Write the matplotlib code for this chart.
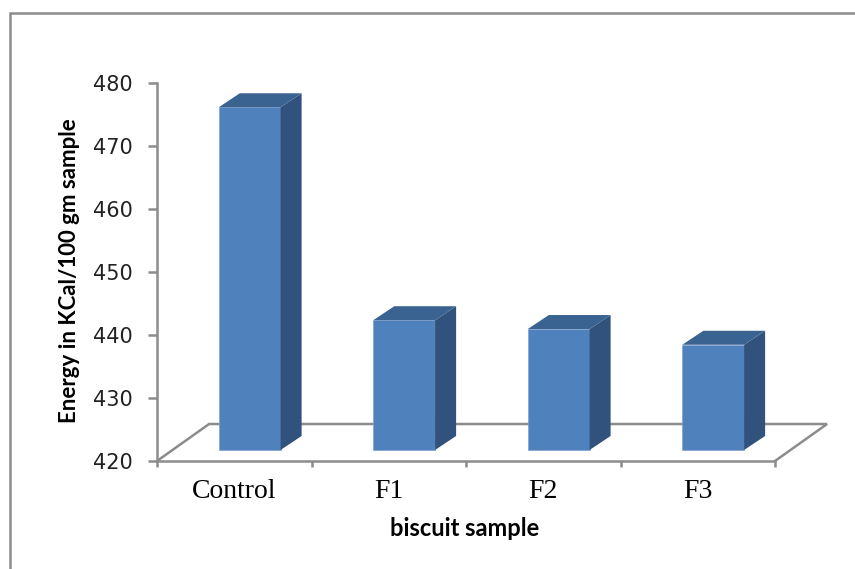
import matplotlib
matplotlib.use('Agg')
import matplotlib.pyplot as plt
from matplotlib.lines import Line2D
from matplotlib.patches import Polygon

categories = ['Control', 'F1', 'F2', 'F3']
energy = [474.4, 440.6, 439.2, 436.7]
yticks = [420, 430, 440, 450, 460, 470, 480]

W, H = 855, 569
GREY = '#8c8c8c'
FRONT = '#4f81bd'
SIDE = '#30527c'
TOP = '#3a6391'

# 3d look: depth of floor and of bars, in data units
floor_dx, floor_dy = 0.337, 5.87
bar_dx, bar_dy = 0.136, 2.22
shift_x, shift_y = 0.10, 1.75
bar_w = 0.40

fig = plt.figure(figsize=(W / 100, H / 100), dpi=100)
ax = fig.add_axes([157 / W, 1 - 461 / H, (775 - 157) / W, (461 - 83) / H])
ax.set_xlim(0, 4)
ax.set_ylim(420, 480)

# floor
ax.plot([0, floor_dx, 4 + floor_dx, 4], [420, 420 + floor_dy, 420 + floor_dy, 420],
        color=GREY, lw=1.8, clip_on=False, zorder=1, solid_joinstyle='miter')

# bars
for i, v in enumerate(energy):
    x0 = i + 0.5 + shift_x - bar_w / 2
    x1 = x0 + bar_w
    y0 = 420 + shift_y
    y1 = v + shift_y
    ax.bar(x0, y1 - y0, width=bar_w, bottom=y0, align='edge', color=FRONT,
           edgecolor='#7fa3cf', lw=0.5, clip_on=False, zorder=3)
    ax.add_patch(Polygon([(x1, y0), (x1 + bar_dx, y0 + bar_dy), (x1 + bar_dx, y1 + bar_dy), (x1, y1)],
                         facecolor=SIDE, edgecolor='none', clip_on=False, zorder=3))
    ax.add_patch(Polygon([(x0, y1), (x0 + bar_dx, y1 + bar_dy), (x1 + bar_dx, y1 + bar_dy), (x1, y1)],
                         facecolor=TOP, edgecolor='none', clip_on=False, zorder=3))

for s in ['top', 'right']:
    ax.spines[s].set_visible(False)
for s in ['left', 'bottom']:
    ax.spines[s].set_color(GREY)
    ax.spines[s].set_linewidth(1.8)

ax.set_yticks(yticks)
ax.set_yticklabels([str(t) for t in yticks], fontsize=15, color='#222222')
ax.tick_params(axis='y', length=6.5, width=1.8, color=GREY, pad=11)
ax.set_xticks(range(5))
ax.set_xticklabels([])
ax.tick_params(axis='x', which='major', length=4.5, width=1.8, color=GREY)
ax.set_xticks([i + 0.5 for i in range(4)], minor=True)
ax.set_xticklabels(categories, minor=True, family='Liberation Serif', fontsize=20)
ax.tick_params(axis='x', which='minor', length=0, pad=13)

fig.text(465 / W, 1 - 529 / H, 'biscuit sample', family='Lato', fontweight='bold',
         fontsize=17, ha='center', va='center')
fig.text(70 / W, 1 - 271 / H, 'Energy in KCal/100 gm sample', family='Lato', fontweight='bold',
         fontsize=16, rotation=90, ha='center', va='center')

# outer frame of the chart, left and top only
fig.add_artist(Line2D([9.5 / W, 9.5 / W, 1], [0, 1 - 12.5 / H, 1 - 12.5 / H],
                      color=GREY, lw=1.8, solid_joinstyle='miter'))

fig.savefig('out.png', dpi=100)
